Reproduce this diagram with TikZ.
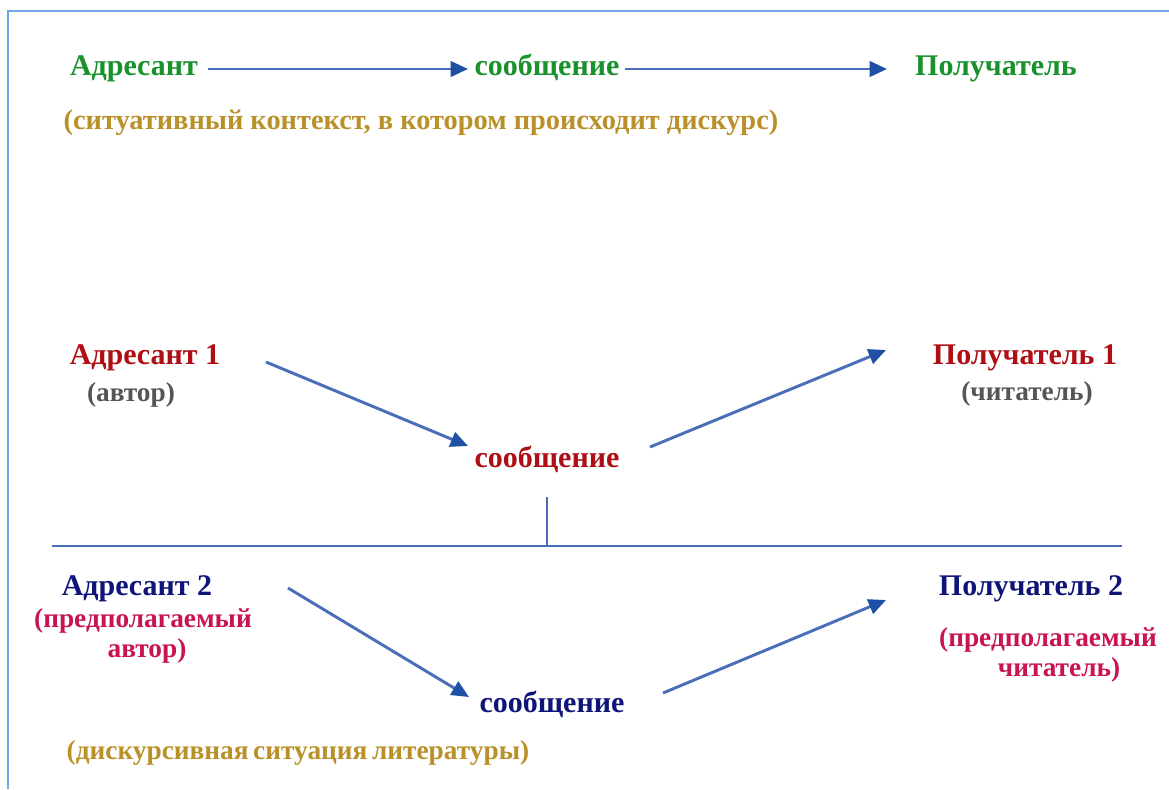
\documentclass[tikz,border=0pt]{standalone}
\usepackage{fontspec}
\setmainfont{Liberation Serif}
\usetikzlibrary{arrows.meta}
\definecolor{cgreen}{RGB}{25,145,45}
\definecolor{cgold}{RGB}{185,145,40}
\definecolor{cred}{RGB}{175,15,20}
\definecolor{cgray}{RGB}{85,85,85}
\definecolor{cnavy}{RGB}{15,20,120}
\definecolor{ccrim}{RGB}{200,20,80}
\definecolor{cline}{RGB}{75,110,185}
\definecolor{chead}{RGB}{30,80,165}
\definecolor{cframe}{RGB}{110,165,230}
\tikzset{
  lbl/.style={inner sep=0pt, anchor=base, font=\fontsize{22.5}{27}\selectfont\bfseries, align=center},
  sub/.style={lbl, font=\fontsize{20.5}{25}\selectfont\bfseries},
  arr/.style={draw=cline, line width=2.2pt, -{Triangle[length=13pt,width=11.5pt,color=chead]}},
  rule/.style={draw=cline, line width=2.2pt}
}
\begin{document}
\begin{tikzpicture}[x=0.75pt,y=-0.75pt]
\useasboundingbox (0,0) rectangle (1169,789);
\fill[white] (0,0) rectangle (1169,789);
\draw[cframe, line width=1pt] (8,789) -- (8,11) -- (1169,11);

% top row
\node[lbl, text=cgreen] (adr0) at (134,75) {Адресант};
\node[lbl, text=cgreen] (msg0) at (547,75) {сообщение};
\node[lbl, text=cgreen] (rec0) at (996,75) {Получатель};
\node[lbl, text=cgold, font=\fontsize{21.3}{25}\selectfont\bfseries] (ctx0) at (421,129) {(ситуативный контекст, в котором происходит дискурс)};
\coordinate (t1s) at (208,69);
\coordinate (t1e) at (468,69);
\coordinate (t2s) at (625,69);
\coordinate (t2e) at (887,69);
\draw[arr] (t1s) -- (t1e);
\draw[arr] (t2s) -- (t2e);

% middle
\node[lbl, text=cred] (adr1) at (145,364) {Адресант 1};
\node[sub, text=cgray] (aut1) at (131,401) {(автор)};
\node[lbl, text=cred] (msg1) at (547,467) {сообщение};
\node[lbl, text=cred] (rec1) at (1025,364) {Получатель 1};
\node[sub, text=cgray] (rd1) at (1027,400) {(читатель)};
\coordinate (a1s) at (266,362);
\coordinate (a1e) at (468,446);
\coordinate (a2s) at (650,447);
\coordinate (a2e) at (886,350);
\draw[arr] (a1s) -- (a1e);
\draw[arr] (a2s) -- (a2e);

% divider
\coordinate (vtop) at (547,497);
\coordinate (vbot) at (547,546);
\coordinate (hl) at (52,546);
\coordinate (hr) at (1122,546);
\draw[rule] (vtop) -- (vbot);
\draw[rule] (hl) -- (hr);

% bottom
\node[lbl, text=cnavy] (adr2) at (137,595) {Адресант 2};
\node[sub, text=ccrim] (aut2a) at (143,627) {(предполагаемый};
\node[sub, text=ccrim] (aut2b) at (147,657) {автор)};
\node[lbl, text=cnavy] (msg2) at (552,712) {сообщение};
\node[lbl, text=cnavy] (rec2) at (1031,595) {Получатель 2};
\node[sub, text=ccrim] (rd2a) at (1048,646) {(предполагаемый};
\node[sub, text=ccrim] (rd2b) at (1059,676) {читатель)};
\node[sub, text=cgold] (ctx2) at (298,759) {(дискурсивная\hspace{-0.08em} ситуация\hspace{-0.08em} литературы)};
\coordinate (b1s) at (288,588);
\coordinate (b1e) at (469,697);
\coordinate (b2s) at (663,693);
\coordinate (b2e) at (886,600);
\draw[arr] (b1s) -- (b1e);
\draw[arr] (b2s) -- (b2e);
\end{tikzpicture}
\end{document}
